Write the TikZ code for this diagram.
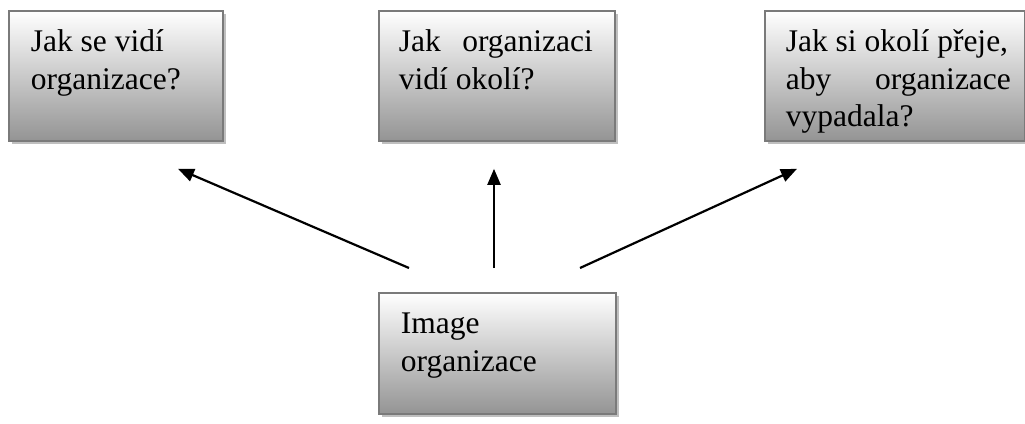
\documentclass[tikz,border=0pt]{standalone}
\usepackage{fontspec}
\setmainfont{Liberation Serif}
\usetikzlibrary{arrows.meta,shadows,calc}
\newcommand\boxtxt[5]{\parbox[t][#2pt][t]{#1pt}{\leftskip=#3pt\rightskip=#4pt\parindent=0pt\fontsize{31.5}{37.5}\selectfont\rule{0pt}{41pt}#5}}
\tikzset{
  bx/.style={draw=black!52, line width=1.8pt, top color=white, bottom color=black!42,
    inner sep=0pt, anchor=north west,
    drop shadow={shadow xshift=3.5pt, shadow yshift=-3.5pt, fill=black!25, opacity=1}},
  arr/.style={line width=2.2pt, -{Triangle[length=16pt,width=13pt]}}
}
\begin{document}
\begin{tikzpicture}[x=1pt,y=-1pt]
\useasboundingbox (0,0) rectangle (1025,423);
\node[bx] (b1) at (8,10) {\boxtxt{214}{130}{22}{0}{Jak se vidí\\organizace?}};
\node[bx] (b2) at (378,10) {\boxtxt{236}{130}{20}{22}{Jak\hfill organizaci\\vidí okolí?}};
\node[bx] (b3) at (764,10) {\boxtxt{260}{130}{21}{14}{Jak si okolí přeje,\\aby\hfill organizace\\vypadala?}};
\node[bx] (b4) at (378,292) {\boxtxt{237}{121}{22}{0}{Image\\organizace}};
\coordinate (s1) at ($(b4.north west)+(31,-24)$);
\coordinate (s2) at ($(b4.north west)+(116,-24)$);
\coordinate (s3) at ($(b4.north west)+(202,-24)$);
\coordinate (e1) at ($(b1.south west)+(170,27)$);
\coordinate (e2) at ($(b2.south west)+(116,27)$);
\coordinate (e3) at ($(b3.south west)+(33,27)$);
\draw[arr] (s1) -- (e1);
\draw[arr] (s2) -- (e2);
\draw[arr] (s3) -- (e3);
\end{tikzpicture}
\end{document}
